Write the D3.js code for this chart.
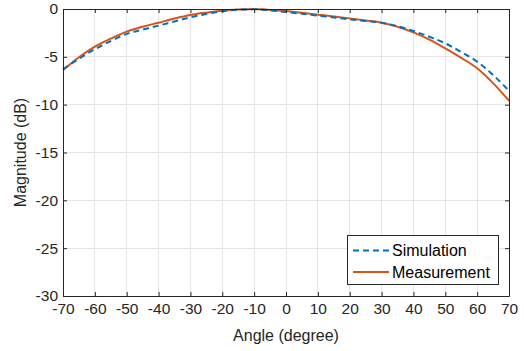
<!DOCTYPE html>
<html>
<head>
<meta charset="utf-8">
<script src="https://cdn.jsdelivr.net/npm/d3@7"></script>
<style>
  body { margin: 0; background: #fff; }
  svg { font-family: 'Liberation Sans', Arial, sans-serif; }
</style>
</head>
<body>
<div id="chart"></div>
<script>
// -- DATA --
var angles = [-70, -65, -60, -55, -50, -45, -40, -35, -30, -25, -20, -15, -10, -5, 0, 5, 10, 15, 20, 25, 30, 35, 40, 45, 50, 55, 60, 65, 70]
var simulation = [-6.3, -5.2, -4.2, -3.35, -2.6, -2.15, -1.74, -1.3, -0.87, -0.52, -0.24, -0.08, -0.03, -0.15, -0.31, -0.5, -0.7, -0.88, -1.08, -1.25, -1.43, -1.8, -2.3, -2.9, -3.59, -4.5, -5.5, -6.9, -8.54]
var measurement = [-6.4, -5.05, -3.94, -3.1, -2.37, -1.85, -1.43, -1.0, -0.63, -0.38, -0.18, -0.06, 0, -0.1, -0.21, -0.4, -0.59, -0.78, -0.98, -1.2, -1.43, -1.85, -2.44, -3.2, -4.11, -5.1, -6.2, -7.75, -9.59]
var xTicks = [-70, -60, -50, -40, -30, -20, -10, 0, 10, 20, 30, 40, 50, 60, 70]
var yTicks = [-30, -25, -20, -15, -10, -5, 0]
var seriesNames = ['Simulation', 'Measurement']

// -- LAYOUT --
var width = 524, height = 351
var margin = {left: 63, right: 15, top: 9, bottom: 55}
var axisColor = '#262626'
var tickFont = '15.5px'
var labelFont = '16px'

var svg = d3.select('#chart').append('svg')
  .attr('width', width)
  .attr('height', height)

var xMap = d3.scaleLinear()
  .domain([-70, 70])
  .range([margin.left, width - margin.right])

var yMap = d3.scaleLinear()
  .domain([-30, 0])
  .range([height - margin.bottom, margin.top])

// grid
var gGrid = svg.append('g')
gGrid.selectAll('.vx')
  .data(xTicks)
  .enter().append('line')
  .attr('x1', d => xMap(d)).attr('x2', d => xMap(d))
  .attr('y1', yMap(-30)).attr('y2', yMap(0))
  .style('stroke', '#e6e6e6')
  .style('stroke-width', 1)
  .style('shape-rendering', 'crispEdges')
gGrid.selectAll('.hy')
  .data(yTicks)
  .enter().append('line')
  .attr('x1', xMap(-70)).attr('x2', xMap(70))
  .attr('y1', d => yMap(d)).attr('y2', d => yMap(d))
  .style('stroke', '#e6e6e6')
  .style('stroke-width', 1)
  .style('shape-rendering', 'crispEdges')

// lines
var data = angles.map((a, i) => ({a: a, sim: simulation[i], meas: measurement[i]}))

var lineSim = d3.line()
  .x(d => xMap(d.a))
  .y(d => yMap(d.sim))
  .curve(d3.curveMonotoneX)
var lineMeas = d3.line()
  .x(d => xMap(d.a))
  .y(d => yMap(d.meas))
  .curve(d3.curveMonotoneX)

svg.append('path')
  .datum(data)
  .attr('d', lineMeas)
  .style('fill', 'none')
  .style('stroke', '#D95319')
  .style('stroke-width', 2)

svg.append('path')
  .datum(data)
  .attr('d', lineSim)
  .style('fill', 'none')
  .style('stroke', '#0072BD')
  .style('stroke-width', 2)
  .style('stroke-dasharray', '6,4')

// axes (plain hyphen minus, like the original)
var fmt = d => String(d)
var xAxis = d3.axisBottom(xMap).tickValues(xTicks).tickSize(-4).tickSizeOuter(0).tickFormat(fmt)
var yAxis = d3.axisLeft(yMap).tickValues(yTicks).tickSize(-4).tickSizeOuter(0).tickFormat(fmt)
var xAxisTop = d3.axisTop(xMap).tickValues(xTicks).tickSize(-4).tickSizeOuter(0).tickFormat('')
var yAxisRight = d3.axisRight(yMap).tickValues(yTicks).tickSize(-4).tickSizeOuter(0).tickFormat('')

var gX = svg.append('g')
  .attr('transform', 'translate(0,' + yMap(-30) + ')')
  .call(xAxis)
var gY = svg.append('g')
  .attr('transform', 'translate(' + xMap(-70) + ',0)')
  .call(yAxis)
var gXT = svg.append('g')
  .attr('transform', 'translate(0,' + yMap(0) + ')')
  .call(xAxisTop)
var gYR = svg.append('g')
  .attr('transform', 'translate(' + xMap(70) + ',0)')
  .call(yAxisRight)

;[gX, gY, gXT, gYR].forEach(g => {
  g.select('.domain').style('stroke', axisColor)
  g.selectAll('line').style('stroke', axisColor)
  g.selectAll('text')
    .style('fill', axisColor)
    .style('font-size', tickFont)
    .style('font-family', "'Liberation Sans', Arial, sans-serif")
})
gX.selectAll('text').attr('y', 2).attr('dy', '1.0em')
gY.selectAll('text').attr('x', -5)

// axis titles
svg.append('text')
  .attr('x', xMap(0))
  .attr('y', 341)
  .style('text-anchor', 'middle')
  .style('font-size', labelFont)
  .style('fill', axisColor)
  .text('Angle (degree)')

svg.append('text')
  .attr('transform', 'translate(26,' + yMap(-15) + ') rotate(-90)')
  .style('text-anchor', 'middle')
  .style('font-size', labelFont)
  .style('fill', axisColor)
  .text('Magnitude (dB)')

// legend
var legend = {x: 347, y: 235, w: 151, h: 49}
var gLeg = svg.append('g')
gLeg.append('rect')
  .attr('x', legend.x).attr('y', legend.y)
  .attr('width', legend.w).attr('height', legend.h)
  .style('fill', '#fff')
  .style('stroke', axisColor)
  .style('stroke-width', 1)
  .style('shape-rendering', 'crispEdges')

var legColors = ['#0072BD', '#D95319']
var legDash = ['6,4', null]
seriesNames.forEach((name, i) => {
  var cy = legend.y + 15.5 + i * 21.5
  gLeg.append('line')
    .attr('x1', legend.x + 6).attr('x2', legend.x + 42)
    .attr('y1', cy).attr('y2', cy)
    .style('stroke', legColors[i])
    .style('stroke-width', 2)
    .style('stroke-dasharray', legDash[i])
  gLeg.append('text')
    .attr('x', legend.x + 45)
    .attr('y', cy)
    .attr('dy', '0.35em')
    .style('font-size', labelFont)
    .style('fill', '#000')
    .text(name)
})
</script>
</body>
</html>
